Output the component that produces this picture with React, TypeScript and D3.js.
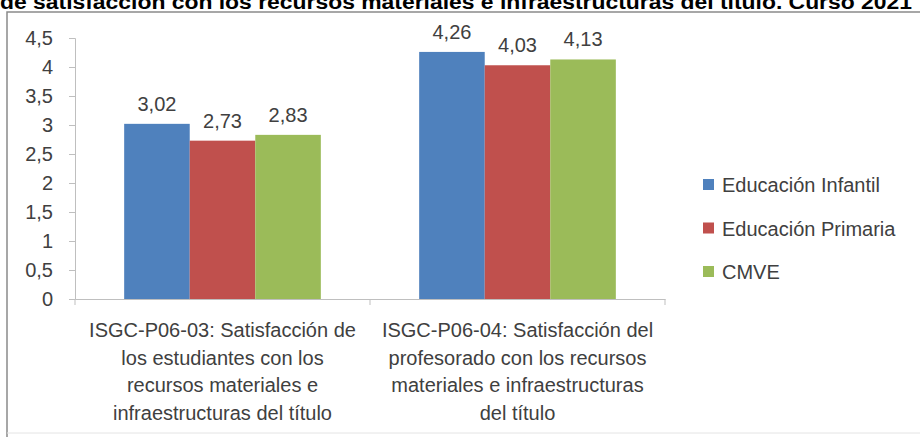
import { useRef, useEffect } from "react";
import * as d3 from "d3";

const categories = ["P06-03", "P06-04"];
const categoryLines = [
  ["ISGC-P06-03: Satisfacción de", "los estudiantes con los", "recursos materiales e", "infraestructuras del título"],
  ["ISGC-P06-04: Satisfacción del", "profesorado con los recursos", "materiales e infraestructuras", "del título"],
];
const seriesNames = ["Educación Infantil", "Educación Primaria", "CMVE"];
const seriesColors = ["#4F81BD", "#C0504D", "#9BBB59"];
const infantil = [3.02, 4.26];
const primaria = [2.73, 4.03];
const cmve = [2.83, 4.13];
const yTicks = [0, 0.5, 1, 1.5, 2, 2.5, 3, 3.5, 4, 4.5];
const title = "de satisfacción con los recursos materiales e infraestructuras del título. Curso 2021";

const W = 920;
const H = 437;
const FONT = "'Liberation Sans', Arial, sans-serif";
const fmt = (v: number) => String(v).replace(".", ",");

export default function App() {
  const svgRef = useRef<SVGSVGElement>(null);

  useEffect(() => {
    if (!svgRef.current) return;
    const svg = d3.select(svgRef.current);
    svg.selectAll("*").remove();

    svg.append("rect").attr("width", W).attr("height", H).attr("fill", "#fff");

    // title, clipped at the top like the source image
    svg.append("text")
      .attr("x", 0)
      .attr("y", 9)
      .attr("font-family", FONT)
      .attr("font-weight", "bold")
      .attr("font-size", 20)
      .attr("textLength", 912)
      .attr("lengthAdjust", "spacingAndGlyphs")
      .attr("fill", "#000")
      .text(title);

    // chart frame
    svg.append("path").attr("d", `M7,${H} V12 H${W}`).attr("fill", "none").attr("stroke", "#8a8a8a").attr("stroke-width", 1.5);
    svg.append("line").attr("x1", 7).attr("x2", W).attr("y1", 433).attr("y2", 433).attr("stroke", "#e4e4e4");

    const margin = { left: 75, top: 38, right: 255, bottom: 138 };
    const x = d3.scaleBand<string>().domain(categories).range([margin.left, W - margin.right]).padding(0);
    const x1 = d3.scaleBand<number>().domain([0, 1, 2]).range([0, x.bandwidth()]).paddingOuter(0.75).paddingInner(0);
    const y = d3.scaleLinear().domain([0, 4.5]).range([H - margin.bottom, margin.top]);

    const series = [infantil, primaria, cmve];
    const g = svg.append("g");

    series.forEach((vals, si) => {
      g.selectAll(`.bar-${si}`)
        .data(vals)
        .enter()
        .append("rect")
        .attr("x", (_, i) => x(categories[i])! + x1(si)!)
        .attr("y", (d) => y(d))
        .attr("width", x1.bandwidth())
        .attr("height", (d) => y(0) - y(d))
        .attr("fill", seriesColors[si]);

      g.selectAll(`.lbl-${si}`)
        .data(vals)
        .enter()
        .append("text")
        .attr("x", (_, i) => x(categories[i])! + x1(si)! + x1.bandwidth() / 2)
        .attr("y", (d) => y(d) - 13)
        .attr("text-anchor", "middle")
        .attr("font-family", FONT)
        .attr("font-size", 20)
        .attr("fill", "#404040")
        .text((d) => fmt(d));
    });

    // y axis
    const yAxis = svg.append("g")
      .attr("transform", `translate(${margin.left},0)`)
      .call(d3.axisLeft(y).tickValues(yTicks).tickSize(6).tickPadding(16).tickFormat((d) => fmt(d as number)));
    yAxis.selectAll("text").attr("font-family", FONT).attr("font-size", 20).attr("fill", "#404040");

    // x axis
    const xAxis = svg.append("g")
      .attr("transform", `translate(0,${y(0)})`)
      .call(d3.axisBottom(x).tickSize(0).tickFormat(() => ""));
    xAxis.selectAll(".tick").remove();
    xAxis.selectAll(".boundary")
      .data([margin.left, x(categories[1])!, W - margin.right])
      .enter()
      .append("line")
      .attr("x1", (d) => d)
      .attr("x2", (d) => d)
      .attr("y1", 0)
      .attr("y2", 6)
      .attr("stroke", "#bfbfbf");

    svg.selectAll(".domain, .tick line").attr("stroke", "#bfbfbf");

    // category labels
    categoryLines.forEach((lines, ci) => {
      const t = svg.append("text")
        .attr("text-anchor", "middle")
        .attr("font-family", FONT)
        .attr("font-size", 20)
        .attr("fill", "#404040");
      lines.forEach((ln, li) => {
        t.append("tspan")
          .attr("x", x(categories[ci])! + x.bandwidth() / 2)
          .attr("y", 337 + li * 27.7)
          .text(ln);
      });
    });

    // legend
    const legend = svg.append("g").attr("transform", "translate(703,185)");
    seriesNames.forEach((name, i) => {
      legend.append("rect").attr("x", 0).attr("y", i * 43.5 - 6).attr("width", 11).attr("height", 11).attr("fill", seriesColors[i]);
      legend.append("text")
        .attr("x", 19)
        .attr("y", i * 43.5 + 7)
        .attr("font-family", FONT)
        .attr("font-size", 20)
        .attr("fill", "#404040")
        .text(name);
    });
  }, []);

  return <svg ref={svgRef} width={W} height={H} style={{ position: "absolute", left: 0, top: 0 }} />;
}
